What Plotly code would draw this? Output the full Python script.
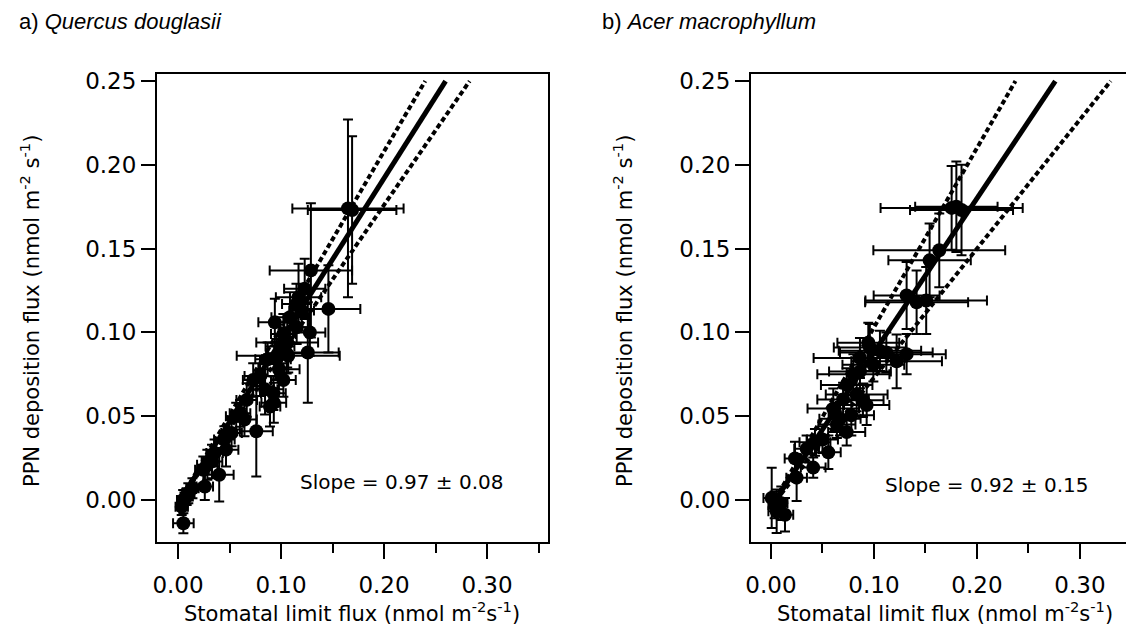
import numpy as np
import plotly.graph_objects as go

# ---------------- data: a) Quercus douglasii ----------------
qd_x = [0.165, 0.169, 0.129, 0.146, 0.123, 0.128, 0.126, 0.093, 0.076, 0.0645,
        0.0565, 0.052, 0.0466, 0.040, 0.026, 0.0285, 0.0246, 0.005, 0.0036, 0.0052,
        0.0084, 0.099, 0.1023, 0.0955, 0.107, 0.0796, 0.0845, 0.073, 0.0667, 0.0602,
        0.1087, 0.115, 0.120, 0.094, 0.1023, 0.0893, 0.0926, 0.1152, 0.1055, 0.087,
        0.0355, 0.033, 0.045, 0.014, 0.010, 0.117, 0.106, 0.098]
qd_y = [0.174, 0.173, 0.137, 0.114, 0.126, 0.100, 0.088, 0.058, 0.041, 0.048,
        0.050, 0.040, 0.030, 0.015, 0.008, 0.021, 0.018, 0.000, -0.004, -0.0139,
        0.002, 0.0915, 0.099, 0.084, 0.086, 0.074, 0.066, 0.0716, 0.0597, 0.0517,
        0.109, 0.117, 0.113, 0.106, 0.0716, 0.0558, 0.0637, 0.103, 0.0875, 0.084,
        0.028, 0.023, 0.036, 0.007, 0.004, 0.121, 0.094, 0.078]
qd_xerr = [0.054, 0.043, 0.040, 0.031, 0.020, 0.015, 0.030, 0.012, 0.016, 0.012,
           0.010, 0.010, 0.012, 0.014, 0.008, 0.010, 0.008, 0.006, 0.006, 0.010,
           0.006, 0.014, 0.012, 0.014, 0.050, 0.015, 0.012, 0.010, 0.010, 0.010,
           0.018, 0.014, 0.012, 0.016, 0.012, 0.010, 0.012, 0.012, 0.020, 0.012,
           0.008, 0.010, 0.010, 0.006, 0.006, 0.022, 0.030, 0.020]
qd_yerr = [0.053, 0.044, 0.040, 0.026, 0.018, 0.014, 0.030, 0.012, 0.027, 0.010,
           0.008, 0.008, 0.010, 0.016, 0.008, 0.009, 0.008, 0.006, 0.005, 0.006,
           0.005, 0.013, 0.012, 0.012, 0.010, 0.012, 0.015, 0.010, 0.010, 0.008,
           0.015, 0.012, 0.010, 0.014, 0.010, 0.012, 0.010, 0.010, 0.012, 0.010,
           0.008, 0.010, 0.008, 0.006, 0.006, 0.020, 0.015, 0.012]
qd_fit = {"slope": 0.97, "low": 0.89, "high": 1.05, "intercept": -0.002}
qd_slope_text = "Slope = 0.97 ± 0.08"

# ---------------- data: b) Acer macrophyllum ----------------
am_x = [0.1754, 0.185, 0.180, 0.1634, 0.154, 0.1317, 0.1414, 0.1507, 0.0945, 0.1058,
        0.122, 0.1317, 0.0864, 0.0735, 0.080, 0.0832, 0.0929, 0.0735, 0.0605, 0.0557,
        0.041, 0.0427, 0.0233, 0.0249, 0.0346, 0.0007, 0.0055, 0.0136, 0.0036, 0.067,
        0.078, 0.0893, 0.0864, 0.0994, 0.096, 0.050, 0.064, 0.070, 0.112, 0.010]
am_y = [0.1743, 0.173, 0.175, 0.149, 0.143, 0.122, 0.118, 0.119, 0.0938, 0.089,
        0.0827, 0.087, 0.0847, 0.0686, 0.075, 0.063, 0.0567, 0.0405, 0.0545, 0.0284,
        0.0193, 0.0344, 0.0248, 0.0133, 0.0305, 0.0012, -0.0068, -0.0088, -0.003, 0.0485,
        0.0505, 0.0595, 0.0767, 0.0807, 0.091, 0.036, 0.045, 0.060, 0.088, -0.002]
am_xerr = [0.069, 0.050, 0.040, 0.064, 0.040, 0.032, 0.050, 0.059, 0.030, 0.040,
           0.044, 0.038, 0.045, 0.025, 0.035, 0.030, 0.022, 0.018, 0.025, 0.012,
           0.012, 0.015, 0.010, 0.010, 0.012, 0.008, 0.008, 0.008, 0.006, 0.020,
           0.022, 0.020, 0.030, 0.030, 0.035, 0.015, 0.018, 0.025, 0.045, 0.006]
am_yerr = [0.025, 0.027, 0.027, 0.022, 0.022, 0.020, 0.019, 0.020, 0.012, 0.012,
           0.016, 0.012, 0.012, 0.010, 0.012, 0.010, 0.012, 0.008, 0.012, 0.010,
           0.006, 0.008, 0.010, 0.014, 0.008, 0.018, 0.013, 0.010, 0.008, 0.010,
           0.012, 0.010, 0.010, 0.010, 0.014, 0.008, 0.008, 0.010, 0.012, 0.010]
am_fit = {"slope": 0.92, "low": 0.77, "high": 1.07, "intercept": -0.004}
am_slope_text = "Slope = 0.92 ± 0.15"

x_ticks = [0.0, 0.1, 0.2, 0.3]
x_ticktext = ["0.00", "0.10", "0.20", "0.30"]
y_ticks = [0.0, 0.05, 0.10, 0.15, 0.20, 0.25]
y_ticktext = ["0.00", "0.05", "0.10", "0.15", "0.20", "0.25"]
y_top = 0.25

FONT = "DejaVu Sans"
fig = go.Figure()


def add_panel(xs, ys, xe, ye, fit, xa, ya):
    fig.add_trace(go.Scatter(
        x=xs, y=ys, mode="markers", xaxis=xa, yaxis=ya, showlegend=False,
        marker=dict(color="black", size=14),
        error_x=dict(type="data", array=xe, color="black", thickness=2, width=5),
        error_y=dict(type="data", array=ye, color="black", thickness=2, width=5),
    ))
    b = fit["intercept"]
    for key, dash, w in [("low", "5px,3px", 4), ("high", "5px,3px", 4), ("slope", "solid", 5)]:
        m = fit[key]
        xx = np.array([0.0, (y_top - b) / m])
        fig.add_trace(go.Scatter(
            x=xx, y=m * xx + b, mode="lines", xaxis=xa, yaxis=ya, showlegend=False,
            line=dict(color="black", width=w, dash=dash),
        ))


add_panel(qd_x, qd_y, qd_xerr, qd_yerr, qd_fit, "x", "y")
add_panel(am_x, am_y, am_xerr, am_yerr, am_fit, "x2", "y2")

W, H = 1126, 626
ML, MR, MT, MB = 157, 0, 74, 84
PW, PH = W - ML - MR, H - MT - MB


def px(xp):
    return (xp - ML) / PW


def py(yp):
    return (H - MB - yp) / PH


xcommon = dict(tickvals=x_ticks, ticktext=x_ticktext, ticks="outside", ticklen=15,
               tickwidth=2, tickcolor="black", showline=True, linewidth=2,
               linecolor="black", mirror=True, showgrid=False, zeroline=False,
               ticklabelstandoff=6,
               minor=dict(dtick=0.05, tick0=0, ticks="outside", ticklen=9,
                          tickwidth=2, tickcolor="black"),
               tickfont=dict(family=FONT, size=23, color="black"))
ycommon = dict(tickvals=y_ticks, ticktext=y_ticktext, ticks="outside", ticklen=14,
               tickwidth=2, tickcolor="black", showline=True, linewidth=2,
               linecolor="black", showgrid=False, zeroline=False,
               range=[-0.0251, 0.2542],
               tickfont=dict(family=FONT, size=23, color="black"))

fig.update_layout(
    width=W, height=H, margin=dict(l=ML, r=MR, t=MT, b=MB),
    plot_bgcolor="white", paper_bgcolor="white",
    xaxis=dict(domain=[0, px(548)], range=[-0.0204, 0.3592], anchor="y", **xcommon),
    yaxis=dict(domain=[0, 1], anchor="x", mirror=True, **ycommon),
    xaxis2=dict(domain=[px(751), 1.0], range=[-0.0194, 0.3447], anchor="y2", **xcommon),
    yaxis2=dict(domain=[0, 1], anchor="x2", mirror=False, **ycommon),
)

ytitle = "PPN deposition flux (nmol m<sup>-2</sup> s<sup>-1</sup>)"
xtitle = "Stomatal limit flux (nmol m<sup>-2</sup>s<sup>-1</sup>)"
tfont = dict(family=FONT, size=21, color="black")
ann = [
    dict(x=px(30), y=py(311), text=ytitle, textangle=-90),
    dict(x=px(623), y=py(311), text=ytitle, textangle=-90),
    dict(x=px(352), y=py(612), text=xtitle),
    dict(x=px(945), y=py(612), text=xtitle),
]
for a in ann:
    fig.add_annotation(xref="paper", yref="paper", showarrow=False,
                       xanchor="center", yanchor="middle", font=tfont, **a)

fig.add_annotation(xref="paper", yref="paper", x=px(17), y=py(22), showarrow=False,
                   xanchor="left", yanchor="middle", text="a) <i>Quercus douglasii</i>",
                   font=dict(family="Liberation Sans", size=22, color="black"))
fig.add_annotation(xref="paper", yref="paper", x=px(600), y=py(22), showarrow=False,
                   xanchor="left", yanchor="middle", text="b) <i>Acer macrophyllum</i>",
                   font=dict(family="Liberation Sans", size=22, color="black"))

fig.add_annotation(xref="x", yref="y", x=0.2175, y=0.0107, text=qd_slope_text,
                   showarrow=False, font=dict(family=FONT, size=20, color="black"))
fig.add_annotation(xref="x2", yref="y2", x=0.21, y=0.009, text=am_slope_text,
                   showarrow=False, font=dict(family=FONT, size=20, color="black"))

fig.write_html("out.html")
